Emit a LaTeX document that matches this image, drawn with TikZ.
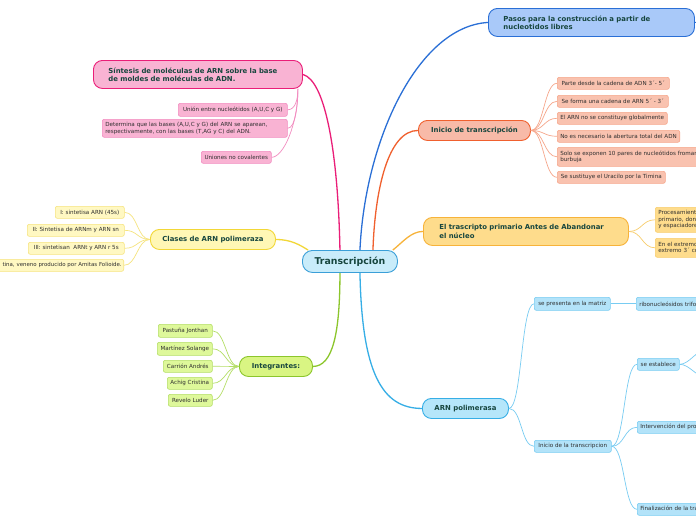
\documentclass[tikz,border=0pt]{standalone}
\usepackage{fontspec}
\setmainfont{DejaVu Sans}
\usetikzlibrary{calc}
\definecolor{tt}{HTML}{17463E}
\definecolor{lt}{HTML}{2E2E2E}
% center
\definecolor{cenf}{HTML}{C9ECFA}\definecolor{cend}{HTML}{3A9FD8}
% pasos
\definecolor{pasf}{HTML}{A9C9F9}\definecolor{pasd}{HTML}{2A6FD6}
% pink
\definecolor{pinf}{HTML}{F9B3D3}\definecolor{pind}{HTML}{EA1E78}\definecolor{pinl}{HTML}{F28CC0}
% yellow
\definecolor{yelf}{HTML}{FFF7B5}\definecolor{yeld}{HTML}{F2D737}\definecolor{yell}{HTML}{F6E47E}\definecolor{yellf}{HTML}{FFF8C2}
% green
\definecolor{grnf}{HTML}{D9F583}\definecolor{grnd}{HTML}{8CC62C}\definecolor{grnl}{HTML}{B4DE66}\definecolor{grnlf}{HTML}{DEF89A}
% salmon
\definecolor{salf}{HTML}{F8BAA8}\definecolor{sald}{HTML}{F0602E}\definecolor{sall}{HTML}{F6A68B}\definecolor{sallf}{HTML}{F9C2AF}
% orange-yellow
\definecolor{orgf}{HTML}{FEDC8C}\definecolor{orgd}{HTML}{F7B33A}\definecolor{orgl}{HTML}{F8CD6C}
% light blue
\definecolor{lbf}{HTML}{B5E6FA}\definecolor{lbd}{HTML}{36AEE6}\definecolor{lbl}{HTML}{78CCF2}\definecolor{lblf}{HTML}{B3E3F9}
\begin{document}
\begin{tikzpicture}[x=1pt,y=-1pt,
  mainbox/.style={draw, line width=0.9pt, rounded corners=9pt, text=tt,
    font=\fontsize{6.9}{8.2}\selectfont\bfseries, inner sep=0pt, anchor=north west},
  leafbox/.style={draw, line width=0.6pt, rounded corners=2pt, text=lt,
    font=\fontsize{5.6}{6.6}\selectfont, inner xsep=3pt, inner ysep=0pt, anchor=north west},
  mm/.style={to path={.. controls +(#1,0) and +(-#1,0) .. (\tikztotarget)}}, mm/.default=13,
  branch/.style={line width=1.3pt},
  twig/.style={line width=0.7pt},
]
\useasboundingbox (0,0) rectangle (696,520);
\fill[white] (0,0) rectangle (696,520);
\clip (0,0) rectangle (696,520);

% ---------- nodes ----------
\node[mainbox, fill=cenf, draw=cend, rounded corners=10pt, font=\fontsize{9.4}{11}\selectfont\bfseries,
  minimum width=95pt, minimum height=22pt] (c) at (302,250) {Transcripción};

\node[mainbox, fill=pasf, draw=pasd, inner xsep=15pt, text width=176pt, minimum height=28pt, align=left]
  (pasos) at (488,8) {Pasos para la construcción a partir de\\nucleotidos libres};

\node[mainbox, fill=pinf, draw=pind, inner xsep=15pt, text width=179pt, minimum height=28pt, align=left]
  (sint) at (93,60) {Síntesis de moléculas de ARN sobre la base\\de moldes de moléculas de ADN.};

\node[mainbox, fill=yelf, draw=yeld, minimum width=125pt, minimum height=20pt] (clases) at (150,229) {Clases de ARN polimeraza};

\node[mainbox, fill=grnf, draw=grnd, minimum width=73pt, minimum height=20pt] (integ) at (239,356) {Integrantes:};

\node[mainbox, fill=salf, draw=sald, minimum width=112pt, minimum height=20pt] (inicio) at (418,120) {Inicio de transcripción};

\node[mainbox, fill=orgf, draw=orgd, inner xsep=16pt, text width=173pt, minimum height=28pt, align=left]
  (trasc) at (423,217) {El trascripto primario Antes de Abandonar\\el núcleo};

\node[mainbox, fill=lbf, draw=lbd, minimum width=86pt, minimum height=20pt] (arnp) at (422,398) {ARN polimerasa};

% pink leaves
\node[leafbox, fill=pinf, draw=pinl, minimum width=109pt, minimum height=13pt] (u1) at (178,103) {Unión entre nucleótidos (A,U,C y G)};
\node[leafbox, fill=pinf, draw=pinl, text width=179pt, minimum height=18pt, align=left] (u2) at (102,119)
  {Determina que las bases (A,U,C y G) del ARN se aparean,\\respectivamente, con las bases (T,AG y C) del ADN.};
\node[leafbox, fill=pinf, draw=pinl, minimum width=70pt, minimum height=12pt] (u3) at (201,151) {Uniones no covalentes};

% yellow leaves
\node[leafbox, fill=yellf, draw=yell, minimum width=69pt, minimum height=12pt] (y1) at (55,206) {I: sintetisa ARN (45s)};
\node[leafbox, fill=yellf, draw=yell, minimum width=97pt, minimum height=12pt] (y2) at (27,224) {II: Sintetisa de ARNm y ARN sn};
\node[leafbox, fill=yellf, draw=yell, minimum width=96pt, minimum height=12pt] (y3) at (28,242) {III: sintetisan\ \ ARNt y ARN r 5s};
\node[leafbox, fill=yellf, draw=yell, anchor=north east, inner xsep=2pt, text width=150pt, align=right, minimum height=12pt,
  font=\fontsize{5.45}{6.6}\selectfont] (y4) at (124,259)
  {tina, veneno producido por Amitas Folioide.};

% green leaves
\node[leafbox, fill=grnlf, draw=grnl, minimum width=54pt, minimum height=13pt] (g1) at (158,324) {Pastuña Jonthan};
\node[leafbox, fill=grnlf, draw=grnl, minimum width=55pt, minimum height=13pt] (g2) at (157,342) {Martínez Solange};
\node[leafbox, fill=grnlf, draw=grnl, minimum width=49pt, minimum height=12pt] (g3) at (163,360) {Carrión Andrés};
\node[leafbox, fill=grnlf, draw=grnl, minimum width=45pt, minimum height=12pt] (g4) at (167,377) {Achig Cristina};
\node[leafbox, fill=grnlf, draw=grnl, minimum width=44pt, minimum height=12pt] (g5) at (168,394) {Revelo Luder};

% salmon leaves
\node[leafbox, fill=sallf, draw=sall, minimum width=112pt, minimum height=12pt] (s1) at (557,77) {Parte desde la cadena de ADN 3´- 5´};
\node[leafbox, fill=sallf, draw=sall, minimum width=111pt, minimum height=12pt] (s2) at (557,95) {Se forma una cadena de ARN 5´\ - 3´};
\node[leafbox, fill=sallf, draw=sall, minimum width=110pt, minimum height=12pt] (s3) at (557,112) {El ARN no se constituye globalmente};
\node[leafbox, fill=sallf, draw=sall, minimum width=122pt, minimum height=12pt] (s4) at (557,130) {No es necesario la abertura total del ADN};
\node[leafbox, fill=sallf, draw=sall, text width=200pt, align=left, minimum height=19pt] (s5) at (557,147)
  {Solo se exponen 10 pares de nucleótidos fromando una\\burbuja};
\node[leafbox, fill=sallf, draw=sall, minimum width=108pt, minimum height=12pt] (s6) at (557,171) {Se sustituye el Uracilo por la Timina};

% orange leaves
\node[leafbox, fill=orgf, draw=orgl, text width=140pt, align=left, minimum height=25pt] (o1) at (655,207)
  {Procesamiento del transcrito\\primario, donde se eliminan\\y espaciadores};
\node[leafbox, fill=orgf, draw=orgl, text width=140pt, align=left, minimum height=19pt] (o2) at (655,238)
  {En el extremo 5´ se añade\\extremo 3´ cola de poli A};

% light blue leaves
\node[leafbox, fill=lblf, draw=lbl, minimum width=76pt, minimum height=13pt] (b1) at (534,297) {se presenta en la matriz};
\node[leafbox, fill=lblf, draw=lbl, minimum height=13pt] (b11) at (636,297) {ribonucleósidos trifosfatos};
\node[leafbox, fill=lblf, draw=lbl, minimum width=77pt, minimum height=12pt] (b2) at (534,440) {Inicio de la transcripcion};
\node[leafbox, fill=lblf, draw=lbl, minimum width=42pt, minimum height=12pt] (b21) at (637,358) {se establece};
\node[leafbox, fill=lblf, draw=lbl, minimum height=12pt] (b22) at (637,421) {Intervención del promotor};
\node[leafbox, fill=lblf, draw=lbl, minimum height=12pt] (b23) at (637,503) {Finalización de la transcripción};

\coordinate (pend) at (706,22);
\coordinate (e1) at (706,350);
\coordinate (e2) at (706,377);

% ---------- main branches ----------
\draw[branch, draw=pind] ([xshift=-10pt]c.north) .. controls +(-2,-100) and +(22,6) .. (sint.east);
\draw[branch, draw=pasd] ([xshift=10pt]c.north) .. controls +(5,-110) and +(-70,4) .. (pasos.west);
\draw[branch, draw=sald] ([xshift=23pt]c.north) .. controls +(2,-60) and +(-30,0) .. (inicio.west);
\draw[branch, draw=orgd] ([xshift=-5pt]c.north east) .. controls +(10,-8) and +(-12,0) .. (trasc.west);
\draw[branch, draw=yeld] (clases.east) .. controls +(15,0) and +(-8,-5) .. ([xshift=6pt]c.north west);
\draw[branch, draw=grnd] ([xshift=-10pt]c.south) .. controls +(0,60) and +(20,0) .. (integ.east);
\draw[branch, draw=lbd] ([xshift=10pt]c.south) .. controls +(2,100) and +(-40,0) .. (arnp.west);
\draw[branch, draw=pasd, line width=1pt] (pasos.east) -- (pend);

% ---------- twigs ----------
\coordinate (sp) at ([xshift=-5pt]sint.south east);
\draw[twig, draw=pinl] (u1.east) .. controls +(8,0) and +(0,10) .. (sp);
\draw[twig, draw=pinl] (u2.east) .. controls +(8,0) and +(0,15) .. (sp);
\draw[twig, draw=pinl] (u3.east) .. controls +(12,0) and +(0,35) .. (sp);

\foreach \n in {y1,y2,y3,y4} \draw[twig, draw=yell] (\n.east) to[mm] (clases.west);
\foreach \n in {g1,g2,g3,g4,g5} \draw[twig, draw=grnl] (\n.east) to[mm] (integ.west);
\foreach \n in {s1,s2,s3,s4,s5,s6} \draw[twig, draw=sall] (inicio.east) to[mm] (\n.west);
\foreach \n in {o1,o2} \draw[twig, draw=orgl] (trasc.east) to[mm] (\n.west);
\foreach \n in {b1,b2} \draw[twig, draw=lbl] (arnp.east) to[mm] (\n.west);
\draw[twig, draw=lbl] (b1.east) -- (b11.west);
\foreach \n in {b21,b22,b23} \draw[twig, draw=lbl] (b2.east) to[mm] (\n.west);
\draw[twig, draw=lbl] (b21.east) to[mm=10] (e1);
\draw[twig, draw=lbl] (b21.east) to[mm=10] (e2);
\end{tikzpicture}
\end{document}
